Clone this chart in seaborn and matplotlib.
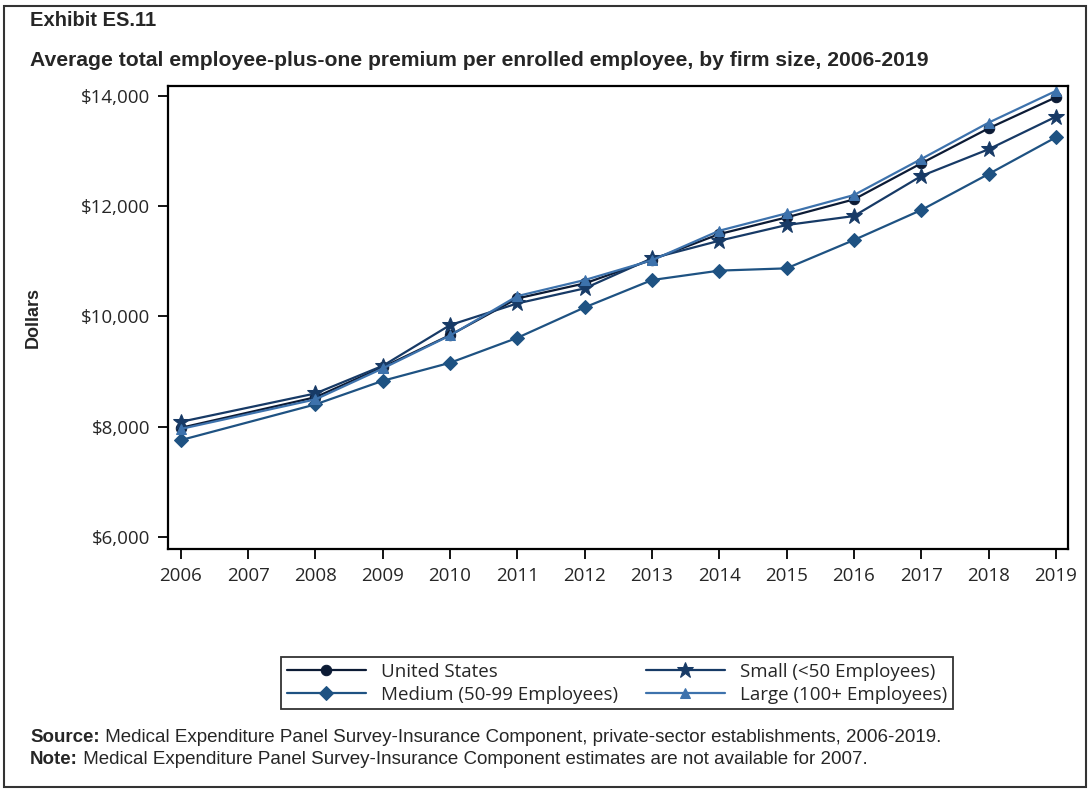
import numpy as np
import pandas as pd
import seaborn as sns
import matplotlib.pyplot as plt
from matplotlib.patches import Rectangle
from matplotlib.ticker import FuncFormatter

years = [2006, 2008, 2009, 2010, 2011, 2012, 2013, 2014, 2015, 2016, 2017, 2018, 2019]
us = [7980, 8535, 9080, 9662, 10328, 10600, 11030, 11495, 11798, 12124, 12778, 13413, 13976]
small = [8089, 8604, 9105, 9844, 10237, 10510, 11055, 11374, 11659, 11822, 12548, 13033, 13624]
medium = [7757, 8405, 8833, 9160, 9613, 10165, 10661, 10832, 10873, 11387, 11931, 12584, 13250]
large = [7960, 8496, 9058, 9655, 10370, 10661, 11020, 11556, 11871, 12203, 12857, 13516, 14091]

series_names = ["United States", "Small (<50 Employees)",
                "Medium (50-99 Employees)", "Large (100+ Employees)"]
colors = ["#0c1b35", "#173a66", "#1e5282", "#3d72ac"]
markers = ["o", "*", "D", "^"]
msizes = [7.5, 12, 7.5, 7.5]

df = pd.DataFrame({"Year": years * 4,
                   "Premium": us + small + medium + large,
                   "Group": np.repeat(series_names, len(years))})

sns.set_style("ticks")
plt.rcParams['font.family'] = ['Liberation Sans', 'DejaVu Sans']

fig = plt.figure(figsize=(10.9, 7.89), dpi=100)
ax = fig.add_axes([168 / 1090, 1 - 549 / 789, 900 / 1090, 463 / 789])

for name, c, m, s in zip(series_names, colors, markers, msizes):
    sns.lineplot(data=df[df["Group"] == name], x="Year", y="Premium", ax=ax,
                 color=c, marker=m, markersize=s, markeredgecolor=c,
                 linewidth=1.6, label=name)

ax.set_xlim(2005.81, 2019.18)
ax.set_ylim(5782, 14181)
ax.set_xticks(range(2006, 2020))
ax.set_yticks([6000, 8000, 10000, 12000, 14000])
ax.yaxis.set_major_formatter(FuncFormatter(lambda v, p: f"${v:,.0f}"))
ax.tick_params(labelsize=13.5, length=7, width=1.3, color="black", pad=6)
for lab in ax.get_xticklabels() + ax.get_yticklabels():
    lab.set_family(['Open Sans', 'DejaVu Sans'])
for sp in ax.spines.values():
    sp.set_linewidth(1.6)
    sp.set_color("black")
ax.set_xlabel("")
ax.set_ylabel("Dollars", fontsize=13, fontweight="bold", labelpad=28)

# row-major legend order like the reference
h, l = ax.get_legend_handles_labels()
order = [0, 2, 1, 3]
ax.legend([h[i] for i in order], [l[i] for i in order],
          loc="upper center", bbox_to_anchor=(617 / 1090, 1 - 648 / 789),
          bbox_transform=fig.transFigure, ncol=2, frameon=True, fancybox=False,
          edgecolor="black", prop={"family": "Open Sans", "size": 13.5},
          columnspacing=1.5, handlelength=4.2, borderpad=0.3, labelspacing=0.25,
          handletextpad=0.8)
ax.get_legend().get_frame().set_linewidth(1.3)

fig.text(30 / 1090, 1 - 21 / 789, "Exhibit ES.11", fontsize=14.5, fontweight="bold", va="center")
fig.text(30 / 1090, 1 - 60 / 789,
         "Average total employee-plus-one premium per enrolled employee, by firm size, 2006-2019",
         fontsize=15.2, fontweight="bold", va="center")

foot = [("Source:", "Medical Expenditure Panel Survey-Insurance Component, private-sector establishments, 2006-2019."),
        ("Note:", "Medical Expenditure Panel Survey-Insurance Component estimates are not available for 2007.")]
for (b, rest), yy in zip(foot, [738, 760]):
    t = fig.text(30 / 1090, 1 - yy / 789, b, fontsize=13.5, fontweight="bold", va="center")
    ax.annotate(" " + rest, xy=(1, 0.5), xycoords=t, fontsize=13.5, va="center",
                annotation_clip=False)

fig.patches.append(Rectangle((0.004, 0.003), 0.992, 0.99, transform=fig.transFigure,
                             fill=False, edgecolor="#333333", linewidth=1.5))

fig.savefig("out.png", dpi=100)
